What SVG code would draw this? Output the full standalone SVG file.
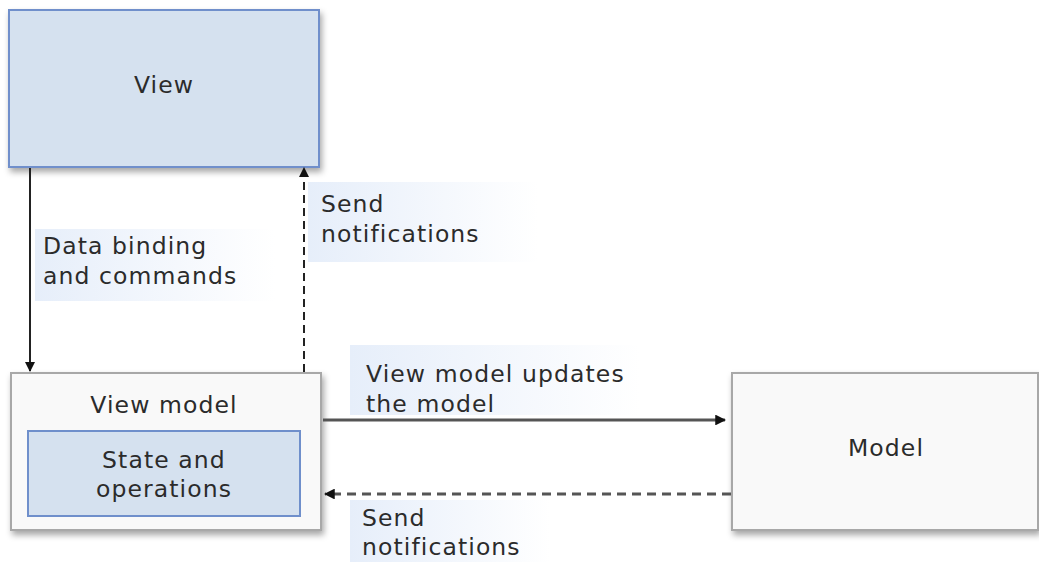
<svg xmlns="http://www.w3.org/2000/svg" width="1039" height="562" viewBox="0 0 1039 562">
<style>
.t{font-family:"DejaVu Sans","Verdana",sans-serif;font-size:23.5px;fill:#2b2b2b;letter-spacing:1.1px}
.c{text-anchor:middle}
.blue{fill:#d5e1ef;stroke:#6f8fcb;stroke-width:2}
.grey{fill:#f9f9f9;stroke:#a8a8a8;stroke-width:2}
.line{stroke:#222;stroke-width:2;fill:none}
.hline{stroke:#555;stroke-width:3;fill:none}
.dash{stroke-dasharray:8 5}
.hdash{stroke-dasharray:9 6}
</style>
<defs>
<linearGradient id="lbl" x1="0" y1="0" x2="1" y2="0">
<stop offset="0" stop-color="#e6eefa"/>
<stop offset="1" stop-color="#ffffff"/>
</linearGradient>
<filter id="sh" x="-5%" y="-5%" width="115%" height="125%">
<feDropShadow dx="2" dy="4" stdDeviation="3" flood-color="#000" flood-opacity="0.35"/>
</filter>
<marker id="ah" viewBox="0 0 10 10" refX="9" refY="5" markerWidth="5" markerHeight="5" orient="auto" markerUnits="strokeWidth">
<path d="M0,0 L10,5 L0,10 z" fill="#111"/>
</marker>
<marker id="ah2" viewBox="0 0 10 10" refX="9" refY="5" markerWidth="3.6" markerHeight="3.6" orient="auto" markerUnits="strokeWidth">
<path d="M0,0 L10,5 L0,10 z" fill="#111"/>
</marker>
</defs>

<g id="labels-bg">
<rect x="35" y="229" width="240" height="72" fill="url(#lbl)"/>
<rect x="308" y="182" width="230" height="80" fill="url(#lbl)"/>
<rect x="350" y="345" width="290" height="70" fill="url(#lbl)"/>
<rect x="350" y="500" width="200" height="62" fill="url(#lbl)"/>
</g>

<g id="view">
<rect class="blue" x="9" y="10" width="310" height="157" filter="url(#sh)"/>
<text class="t c" x="164" y="93">View</text>
</g>

<g id="viewmodel">
<rect class="grey" x="11" y="373" width="310" height="157" filter="url(#sh)"/>
<text class="t c" x="164" y="413">View model</text>
<g id="state">
<rect class="blue" x="28" y="431" width="272" height="85"/>
<text class="t c" x="164" y="468">State and</text>
<text class="t c" x="164" y="497">operations</text>
</g>
</g>

<g id="model">
<rect class="grey" x="732" y="373" width="306" height="157" filter="url(#sh)"/>
<text class="t c" x="886" y="456">Model</text>
</g>

<g id="connectors">
<line class="line" x1="30" y1="168" x2="30" y2="371" marker-end="url(#ah)"/>
<line class="line dash" x1="304" y1="372" x2="304" y2="168" marker-end="url(#ah)"/>
<line class="hline" x1="323" y1="420" x2="725" y2="420" marker-end="url(#ah2)"/>
<line class="hline hdash" x1="731" y1="494" x2="325" y2="494" marker-end="url(#ah2)"/>
</g>

<g id="labels">
<text class="t" x="43" y="254">Data binding</text>
<text class="t" x="43" y="284">and commands</text>
<text class="t" x="321" y="212">Send</text>
<text class="t" x="321" y="242">notifications</text>
<text class="t" x="366" y="382">View model updates</text>
<text class="t" x="366" y="412">the model</text>
<text class="t" x="362" y="526">Send</text>
<text class="t" x="362" y="555">notifications</text>
</g>
</svg>
